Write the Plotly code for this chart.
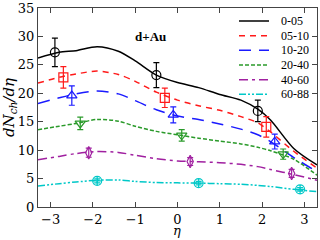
import plotly.graph_objects as go

# Curve grids and values
eta_curve = [-3.3, -2.8, -2.4, -1.9, -1.4, -1.0, -0.5, 0.0, 0.5, 1.0, 1.5, 1.9, 2.2, 2.75, 3.3]
c_0_05 = [26.2, 27.2, 27.5, 28.2, 27.4, 25.7, 23.2, 21.9, 21.0, 19.8, 18.8, 17.2, 15.3, 10.3, 7.4]
c_05_10 = [21.8, 22.8, 23.4, 23.9, 23.3, 22.1, 20.2, 18.8, 17.8, 17.0, 15.9, 14.8, 13.2, 9.8, 6.85]
c_10_20 = [18.2, 19.2, 19.9, 20.4, 19.9, 18.7, 17.1, 16.0, 15.4, 14.6, 13.7, 12.7, 11.5, 8.7, 6.2]
c_20_40 = [13.6, 14.2, 14.7, 15.4, 15.1, 14.2, 13.3, 12.7, 12.1, 11.6, 11.1, 10.5, 9.9, 8.4, 5.6]
c_40_60 = [8.3, 8.9, 9.4, 9.75, 9.6, 9.1, 8.5, 8.1, 7.95, 7.8, 7.5, 7.1, 6.6, 5.7, 4.7]
c_60_88 = [3.7, 4.1, 4.4, 4.7, 4.75, 4.5, 4.3, 4.25, 4.2, 4.1, 4.0, 3.8, 3.6, 3.1, 2.7]

# Data points (eta, dN/deta, error)
pts = {
    "0-05": ([-2.9, -0.5, 1.9], [27.2, 23.2, 16.9], [2.5, 2.2, 1.9]),
    "05-10": ([-2.7, -0.3, 2.1], [22.8, 19.2, 14.1], [1.9, 1.7, 1.8]),
    "10-20": ([-2.5, -0.1, 2.3], [19.6, 16.2, 11.5], [1.7, 1.4, 1.3]),
    "20-40": ([-2.3, 0.1, 2.5], [14.7, 12.6, 9.3], [1.1, 1.0, 0.9]),
    "40-60": ([-2.1, 0.3, 2.7], [9.55, 8.0, 5.9], [0.8, 0.7, 0.7]),
    "60-88": ([-1.9, 0.5, 2.9], [4.6, 4.2, 3.1], [0.35, 0.3, 0.3]),
}

labels = ["0-05", "05-10", "10-20", "20-40", "40-60", "60-88"]
curves = [c_0_05, c_05_10, c_10_20, c_20_40, c_40_60, c_60_88]
colors = ["#000000", "#ff1a1a", "#1a1aff", "#2a9a2a", "#a020a0", "#00c8c8"]
dashes = ["solid", "6px,5px", "12px,8px", "4px,2px", "9px,4px,3px,4px", "7px,2px,2px,2px,2px,2px"]
symbols = ["circle-open", "square-open", "triangle-up-open", "triangle-down-open",
           "diamond-tall-open", "circle-cross-open"]

W, H = 320, 240
L, R, T, B = 38, 3, 8, 33
pw, ph = W - L - R, H - T - B

fig = go.Figure()
for lab, cv, col, dsh in zip(labels, curves, colors, dashes):
    fig.add_trace(go.Scatter(x=eta_curve, y=cv, mode="lines", name=lab, showlegend=False,
                             line=dict(color=col, dash=dsh, width=1.5, shape="spline", smoothing=0.8)))
for lab, col, sym in zip(labels, colors, symbols):
    x, y, e = pts[lab]
    fig.add_trace(go.Scatter(x=x, y=y, mode="markers", showlegend=False,
                             marker=dict(symbol=sym, size=9, color=col, line=dict(width=1.2, color=col)),
                             error_y=dict(type="data", array=e, color=col, thickness=1.2, width=3)))

# manual legend (compact rows like the reference)
leg_font = "Liberation Serif"
for i, (lab, col, dsh) in enumerate(zip(labels, colors, dashes)):
    py = 21 + i * 14.66
    yp = (H - B - py) / ph
    fig.add_shape(type="line", xref="paper", yref="paper",
                  x0=(239 - L) / pw, x1=(269 - L) / pw, y0=yp, y1=yp,
                  line=dict(color=col, dash=dsh, width=1.5))
    fig.add_annotation(xref="paper", yref="paper", x=(279 - L) / pw, y=yp, text=lab,
                       showarrow=False, xanchor="left", yanchor="middle",
                       font=dict(family=leg_font, size=12, color="black"))

fig.add_annotation(x=-1.05, y=30.0, text="<b>d+Au</b>", showarrow=False,
                   font=dict(family="Liberation Serif", size=13, color="black"),
                   xanchor="left", yanchor="middle")

# x-axis title placed below the tick labels
fig.add_annotation(xref="paper", yref="paper", x=(177 - L) / pw, y=(H - B - 240) / ph,
                   text="<i>η</i>", showarrow=False, xanchor="center", yanchor="bottom",
                   font=dict(family="DejaVu Serif", size=13, color="black"))

tickfont = dict(family="DejaVu Serif", size=13, color="black")
fig.update_layout(
    width=W, height=H,
    margin=dict(l=L, r=R, t=T, b=B),
    plot_bgcolor="white", paper_bgcolor="white",
    font=dict(family="DejaVu Serif", size=13, color="black"),
    showlegend=False,
    xaxis=dict(range=[-3.3, 3.3], tickvals=[-3, -2, -1, 0, 1, 2, 3],
               ticktext=["−3", "−2", "−1", "0", "1", "2", "3"], tickfont=tickfont,
               ticks="inside", ticklen=5, tickcolor="#444", mirror="allticks", showline=True,
               linecolor="#444", showgrid=False, zeroline=False, automargin=False),
    yaxis=dict(range=[0, 35], tickvals=[0, 5, 10, 15, 20, 25, 30, 35], tickfont=tickfont,
               ticks="inside", ticklen=5, tickcolor="#444", mirror="allticks", showline=True,
               linecolor="#444", showgrid=False, zeroline=False, automargin=False,
               title=dict(text="<i>dN</i><sub><i>ch</i></sub><i>/dη</i>", standoff=0,
                          font=dict(family="DejaVu Serif", size=15))),
)
fig.write_html("out.html", config={"displayModeBar": False},
               post_script="document.body.style.margin='0';document.body.style.padding='0';")
